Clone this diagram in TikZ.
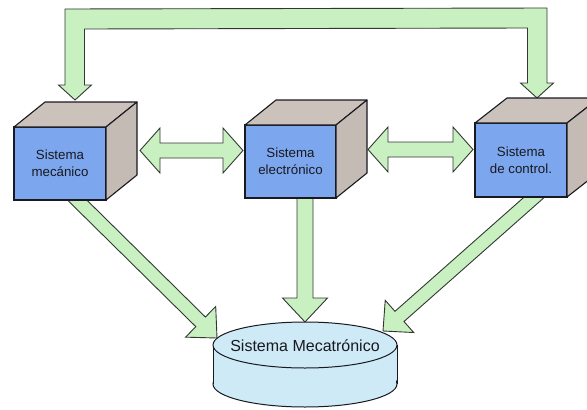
\documentclass[tikz,border=0pt]{standalone}
\usepackage{fontspec}
\setmainfont{Liberation Sans}
\usetikzlibrary{calc,backgrounds}

\definecolor{faceblue}{RGB}{124,166,238}
\definecolor{facegray}{RGB}{203,194,188}
\definecolor{sidegray}{RGB}{196,187,181}
\definecolor{arrowgreen}{RGB}{200,240,193}
\definecolor{arrowedge}{RGB}{50,55,50}
\definecolor{cylfill}{RGB}{206,234,246}
\definecolor{inkdark}{RGB}{25,25,32}

\tikzset{
  front/.style={draw=inkdark, line width=1.1pt, fill=faceblue, outer sep=0pt,
    inner sep=0pt, minimum width=92pt, minimum height=73pt, align=center,
    font=\fontsize{13.3}{17}\selectfont, text=inkdark},
  topface/.style={draw=inkdark, line width=1.1pt, fill=facegray, line join=round},
  sideface/.style={draw=inkdark, line width=1.1pt, fill=sidegray, line join=round},
  fatarrow/.style={draw=arrowedge, line width=0.9pt, fill=arrowgreen, line join=miter},
  cylbody/.style={fill=cylfill},
  cyledge/.style={draw=inkdark, line width=1pt},
}

% top and right faces of a box whose front face is node #1, depth (#2,#3)
\newcommand\cubesides[3]{%
  \filldraw[topface] (#1.north west) -- ++(#2,#3) -- ($(#1.north east)+(#2,#3)$)
    -- (#1.north east) -- cycle;
  \filldraw[sideface] (#1.north east) -- ++(#2,#3) -- ($(#1.south east)+(#2,#3)$)
    -- (#1.south east) -- cycle;
}

% block arrow from #1 to #2: shaft half width #3, head half width #4, head length #5
\newcommand\blockarrow[5]{%
  \coordinate (ba-h) at ($(#2)!#5!(#1)$);
  \filldraw[fatarrow] ($(#1)!#3!90:(#2)$) -- ($(ba-h)!#3!-90:(#1)$)
    -- ($(ba-h)!#4!-90:(#1)$) -- (#2) -- ($(ba-h)!#4!90:(#1)$)
    -- ($(ba-h)!#3!90:(#1)$) -- ($(#1)!#3!-90:(#2)$) -- cycle;
}

% double-headed block arrow between #1 and #2
\newcommand\dblarrow[5]{%
  \coordinate (da-a) at ($(#1)!#5!(#2)$);
  \coordinate (da-b) at ($(#2)!#5!(#1)$);
  \filldraw[fatarrow] (#1) -- ($(da-a)!#4!90:(#2)$) -- ($(da-a)!#3!90:(#2)$)
    -- ($(da-b)!#3!-90:(#1)$) -- ($(da-b)!#4!-90:(#1)$) -- (#2)
    -- ($(da-b)!#4!90:(#1)$) -- ($(da-b)!#3!90:(#1)$)
    -- ($(da-a)!#3!-90:(#2)$) -- ($(da-a)!#4!-90:(#2)$) -- cycle;
}

\begin{document}
\begin{tikzpicture}[x=1pt,y=-1pt]
\useasboundingbox (0,0) rectangle (587,410);
\clip (0,0) rectangle (587,410);

% the three subsystem boxes
\node[front] (mec) at (60,163.5) {Sistema\\mecánico};
\node[front, minimum width=91pt] (ele) at (290.5,161.5) {Sistema\\electrónico};
\node[front, minimum height=74pt] (ctl) at (521,160) {Sistema\\de control.};
\cubesides{mec}{31}{-25}
\cubesides{ele}{31}{-25}
\cubesides{ctl}{32}{-25}

% the mechatronic system drum
\fill[cylbody] (213,345) rectangle (397,384);
\filldraw[cylbody, cyledge] (305,384) ellipse [x radius=92pt, y radius=23pt];
\fill[cylbody] (213.6,345) rectangle (396.4,384);
\draw[cyledge] (213,345) -- (213,384) (397,345) -- (397,384);
\filldraw[cylbody, cyledge] (305,345) ellipse [x radius=92pt, y radius=23pt];
\node[font=\fontsize{16}{19}\selectfont, text=inkdark] (mt) at (305,346)
  {Sistema Mecatrónico};

% connector end points
\coordinate (topL) at (75,100);
\coordinate (topR) at (537,98);
\coordinate (mecR) at (140,150.5);
\coordinate (eleL) at (243,150.5);
\coordinate (eleR) at (368,149.5);
\coordinate (ctlL) at (473,149.5);
\coordinate (mecOut) at (71,194);
\coordinate (eleOut) at (305,190);
\coordinate (ctlOut) at (539,193);
\coordinate (mtL) at (217,338);
\coordinate (mtT) at (305,322);
\coordinate (mtR) at (383,331);

\begin{pgfonlayer}{background}
  % feedback loop over the top, from control back to mechanics
  \filldraw[fatarrow] (topL) -- (58.5,85) -- (65,85) -- (65,9) -- (547,8)
    -- (547,83) -- (553.5,83) -- (topR) -- (520.5,83) -- (527.5,83)
    -- (527.5,28) -- (84.5,29) -- (84.5,85) -- (91.5,85) -- cycle;
  \dblarrow{mecR}{eleL}{7.5pt}{22.5pt}{20pt}
  \dblarrow{eleR}{ctlL}{7.5pt}{22.5pt}{20pt}
  \blockarrow{mecOut}{mtL}{6.8pt}{21.5pt}{23pt}
  \blockarrow{eleOut}{mtT}{8pt}{22.5pt}{24pt}
  \blockarrow{ctlOut}{mtR}{6.8pt}{21.5pt}{22pt}
\end{pgfonlayer}
\end{tikzpicture}
\end{document}
